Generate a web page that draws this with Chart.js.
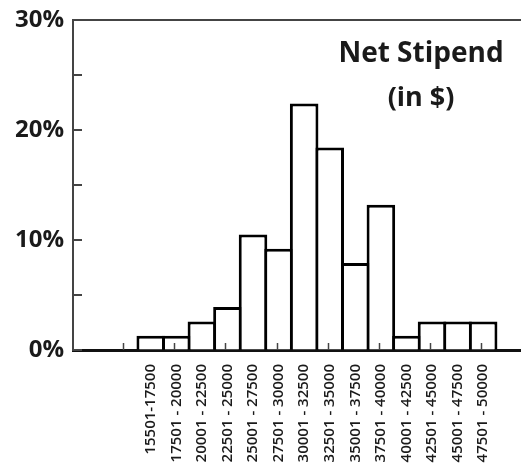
<!DOCTYPE html>
<html>
<head>
<meta charset="utf-8">
<script src="https://cdn.jsdelivr.net/npm/chart.js@4.4.0/dist/chart.umd.min.js"></script>
<style>
  body { margin: 0; background: #fff; }
</style>
</head>
<body>
<canvas id="stipendChart" width="521" height="465"></canvas>
<script>
const categories = ['15501-17500', '17501 - 20000', '20001 - 22500', '22501 - 25000', '25001 - 27500',
  '27501 - 30000', '30001 - 32500', '32501 - 35000', '35001 - 37500', '37501 - 40000',
  '40001 - 42500', '42501 - 45000', '45001 - 47500', '47501 - 50000'];
const percents = [1.3, 1.3, 2.6, 3.9, 10.5, 9.2, 22.4, 18.4, 7.9, 13.2, 1.3, 2.6, 2.6, 2.6];
const yTicks = [0, 5, 10, 15, 20, 25, 30];
const yLabels = ['0%', '', '10%', '', '20%', '', '30%'];
const titleLines = ['Net Stipend', '(in $)'];

// little tick marks drawn into the plot, plus top frame line and the title
const extras = {
  id: 'extras',
  afterDatasetsDraw(chart) {
    const ctx = chart.ctx;
    const x = chart.scales.x, y = chart.scales.y;
    const area = chart.chartArea;
    ctx.save();
    ctx.strokeStyle = '#444';
    ctx.lineWidth = 2;
    ctx.beginPath();
    ctx.moveTo(area.left - 1, area.top);
    ctx.lineTo(area.right, area.top);
    ctx.stroke();

    yTicks.forEach(v => {
      const py = Math.round(y.getPixelForValue(v));
      ctx.beginPath();
      ctx.moveTo(area.left, py);
      ctx.lineTo(area.left + 9, py);
      ctx.stroke();
    });

    ctx.lineWidth = 1.5;
    for (let v = -1; v < categories.length; v += 2) {
      const px = Math.round(x.getPixelForValue(v - 0.08)) + 0.5;
      ctx.beginPath();
      ctx.moveTo(px, area.bottom);
      ctx.lineTo(px, area.bottom - 7);
      ctx.stroke();
    }

    ctx.fillStyle = '#1a1a1a';
    ctx.font = '700 28px "Open Sans"';
    ctx.textAlign = 'center';
    ctx.fillText(titleLines[0], 421, 62);
    ctx.font = '700 27px "Open Sans"';
    ctx.fillText(titleLines[1], 421, 106);
    ctx.restore();
  }
};

new Chart(document.getElementById('stipendChart'), {
  type: 'bar',
  data: {
    datasets: [{
      data: percents.map((v, i) => ({ x: i, y: v })),
      backgroundColor: '#fff',
      borderColor: '#000',
      borderWidth: 3,
      barPercentage: 1.117,
      categoryPercentage: 1
    }]
  },
  options: {
    responsive: false,
    animation: false,
    devicePixelRatio: 1,
    layout: { padding: { top: 20, right: 0, left: 0, bottom: 0 } },
    plugins: { legend: { display: false }, tooltip: { enabled: false } },
    scales: {
      x: {
        type: 'linear',
        offset: false,
        min: -3.04,
        max: 14.48,
        z: 1,
        afterBuildTicks: s => { s.ticks = categories.map((_, i) => ({ value: i })); },
        afterFit: s => { s.height = 115; s.paddingLeft = 0; s.paddingRight = 0; },
        grid: { display: true, offset: false, drawOnChartArea: false, drawTicks: false },
        border: { color: '#111', width: 3 },
        ticks: {
          autoSkip: false,
          minRotation: 90,
          maxRotation: 90,
          padding: 14,
          color: '#1a1a1a',
          font: { family: 'Open Sans', size: 15, weight: '600' },
          callback: v => categories[v] || ''
        }
      },
      y: {
        min: 0,
        max: 30,
        afterBuildTicks: s => { s.ticks = yTicks.map(v => ({ value: v })); },
        afterFit: s => { s.width = 73; s.paddingTop = 0; s.paddingBottom = 0; },
        grid: { display: true, drawOnChartArea: false, drawTicks: false },
        border: { color: '#444', width: 2 },
        ticks: {
          padding: 9,
          color: '#1a1a1a',
          font: { family: 'Open Sans', size: 24, weight: '700' },
          callback: (v, i) => yLabels[i]
        }
      }
    }
  },
  plugins: [extras]
});
</script>
</body>
</html>
